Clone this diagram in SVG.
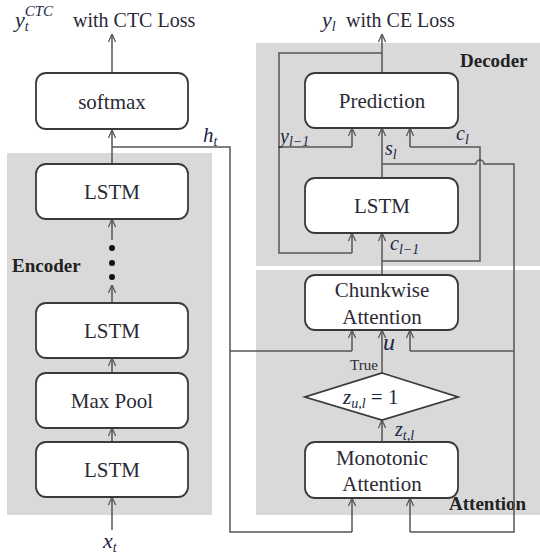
<svg xmlns="http://www.w3.org/2000/svg" width="540" height="560" viewBox="0 0 540 560">
<defs>
<marker id="arr" viewBox="0 0 10 10" refX="10" refY="5" markerWidth="9" markerHeight="9" markerUnits="userSpaceOnUse" orient="auto">
<path d="M1,1 L10,5 L1,9" fill="none" stroke="#555" stroke-width="1.4"/>
</marker>
</defs>
<style>
.panel{fill:#d9d9d9}
.box{fill:#fff;stroke:#3a3a3a;stroke-width:1.8}
text{font-family:'Liberation Serif','Times New Roman','DejaVu Serif',serif}
.t{font-size:21px;fill:#2a2a35;text-anchor:middle}
.lbl{fill:#2a2a35}
.b{font-size:19px;font-weight:bold;fill:#222}
.m{font-style:italic;fill:#1c2744}
.c{fill:none;stroke:#555;stroke-width:1.5}
.a{marker-end:url(#arr)}
</style>
<rect width="540" height="560" fill="#fff"/>
<g id="panels">
<rect class="panel" x="7" y="153" width="205" height="362"/>
<rect class="panel" x="256" y="43" width="284" height="223"/>
<rect class="panel" x="256" y="270" width="284" height="245"/>
</g>
<g id="panel-labels">
<text class="b" x="12" y="272">Encoder</text>
<text class="b" x="460" y="67">Decoder</text>
<text class="b" x="449" y="510">Attention</text>
</g>
<g id="connectors">
<path class="c a" d="M112,72 V34"/>
<path class="c a" d="M112,164 V130"/>
<path class="c" d="M112,147 H230 V532 H352"/>
<path class="c a" d="M352,532 V498"/>
<path class="c" d="M230,351 H352"/>
<path class="c a" d="M352,351 V330"/>
<path class="c a" d="M112,240 V219"/>
<path class="c a" d="M112,303 V285"/>
<path class="c a" d="M112,373 V358"/>
<path class="c a" d="M112,442 V428"/>
<path class="c a" d="M112,530 V497"/>
<path class="c a" d="M382,73 V34"/>
<path class="c" d="M382,53 H279 V253 H352"/>
<path class="c a" d="M352,253 V233"/>
<path class="c" d="M279,147 H352"/>
<path class="c a" d="M352,147 V128"/>
<path class="c a" d="M382,178 V128"/>
<path class="c" d="M382,164 H476 a4,4 0 0 1 8,0 H514 V532 H410"/>
<path class="c a" d="M410,532 V498"/>
<path class="c" d="M514,351 H410"/>
<path class="c a" d="M410,351 V330"/>
<path class="c a" d="M382,275 V233"/>
<path class="c" d="M382,261 H480 V147 H410"/>
<path class="c a" d="M410,147 V128"/>
<path class="c a" d="M382,373 V330"/>
<path class="c a" d="M382,442 V420"/>
</g>
<g id="dots" fill="#111">
<circle cx="112" cy="248" r="3"/>
<circle cx="112" cy="263" r="3"/>
<circle cx="112" cy="277" r="3"/>
</g>
<g id="softmax"><rect class="box" x="36" y="73" width="152" height="56" rx="10"/><text class="t" x="112" y="109">softmax</text></g>
<g id="enc-lstm3"><rect class="box" x="36" y="164" width="152" height="55" rx="10"/><text class="t" x="112" y="199">LSTM</text></g>
<g id="enc-lstm2"><rect class="box" x="36" y="303" width="152" height="55" rx="10"/><text class="t" x="112" y="338">LSTM</text></g>
<g id="maxpool"><rect class="box" x="36" y="373" width="152" height="55" rx="10"/><text class="t" x="112" y="408">Max Pool</text></g>
<g id="enc-lstm1"><rect class="box" x="36" y="442" width="152" height="55" rx="10"/><text class="t" x="112" y="477">LSTM</text></g>
<g id="prediction"><rect class="box" x="305" y="73" width="153" height="55" rx="10"/><text class="t" x="382" y="108">Prediction</text></g>
<g id="dec-lstm"><rect class="box" x="305" y="178" width="153" height="55" rx="10"/><text class="t" x="382" y="213">LSTM</text></g>
<g id="chunkwise"><rect class="box" x="305" y="275" width="153" height="55" rx="10"/><text class="t" x="382" y="297">Chunkwise</text><text class="t" x="382" y="324">Attention</text></g>
<g id="decision"><path class="box" d="M382,373 L458,397 L382,420 L305,397 Z"/><text x="343" y="404" class="m" style="font-size:21px">z<tspan style="font-size:14px" dy="4">u,l</tspan><tspan style="font-style:normal;font-size:21px" dy="-4"> = 1</tspan></text></g>
<g id="monotonic"><rect class="box" x="305" y="442" width="153" height="56" rx="10"/><text class="t" x="382" y="465">Monotonic</text><text class="t" x="382" y="491">Attention</text></g>
<g id="labels">
<text class="m" x="15" y="27" style="font-size:22px">y<tspan style="font-size:14px" dy="4">t</tspan><tspan style="font-size:15px" dx="-4" dy="-15">CTC</tspan></text>
<text class="lbl" x="73" y="27" style="font-size:20px">with CTC Loss</text>
<text class="m" x="322" y="27" style="font-size:22px">y<tspan style="font-size:14px" dy="4">l</tspan></text>
<text class="lbl" x="346" y="27" style="font-size:20px">with CE Loss</text>
<text class="m" x="203" y="142" style="font-size:21px">h<tspan style="font-size:14px" dy="4">t</tspan></text>
<text class="m" x="280" y="143" style="font-size:20px">y<tspan style="font-size:14px" dy="3">l−1</tspan></text>
<text class="m" x="385" y="155" style="font-size:20px">s<tspan style="font-size:14px" dy="4">l</tspan></text>
<text class="m" x="456" y="140" style="font-size:20px">c<tspan style="font-size:14px" dy="4">l</tspan></text>
<text class="m" x="390" y="250" style="font-size:20px">c<tspan style="font-size:14px" dy="4">l−1</tspan></text>
<text class="m" x="383" y="350" style="font-size:24px">u</text>
<text class="lbl" x="350" y="370" style="font-size:15px">True</text>
<text class="m" x="395" y="436" style="font-size:20px">z<tspan style="font-size:14px" dy="4">t,l</tspan></text>
<text class="m" x="103" y="548" style="font-size:22px">x<tspan style="font-size:14px" dy="4">t</tspan></text>
</g>
</svg>
